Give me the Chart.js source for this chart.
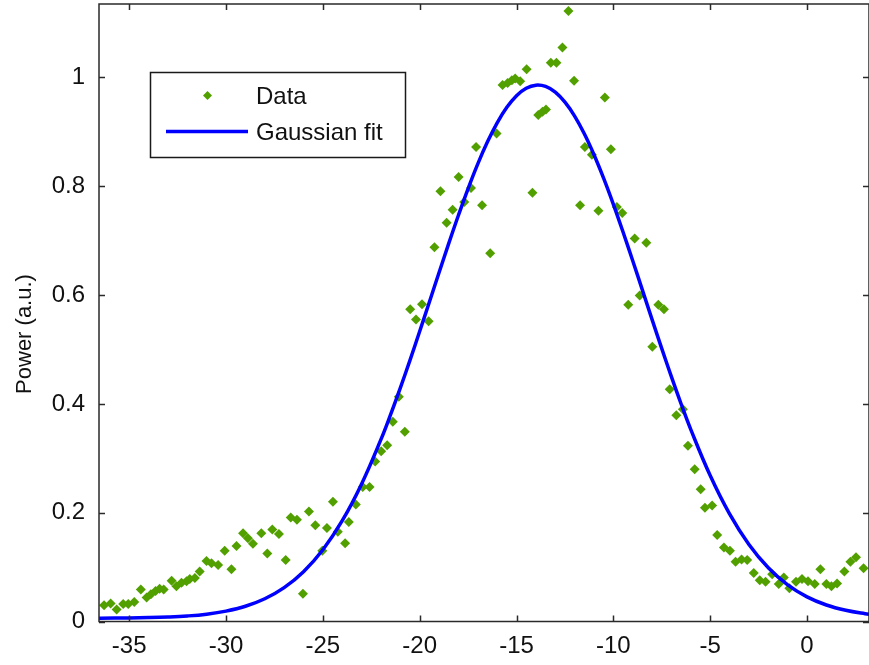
<!DOCTYPE html>
<html>
<head>
<meta charset="utf-8">
<script src="https://cdn.jsdelivr.net/npm/chart.js@4/dist/chart.umd.min.js"></script>
<style>
  html, body { margin: 0; padding: 0; background: #fff; overflow: hidden; }
  canvas { display: block; }
</style>
</head>
<body>
<canvas id="c" width="869" height="665"></canvas>
<script>
// Measured spectrum: detuning and normalised power
const dataX = [
  -36.30, -35.96, -35.65, -35.31, -35.05, -34.74, -34.40, -34.10, -33.88, -33.64,
  -33.43, -33.22, -32.81, -32.56, -32.30, -32.04, -31.87, -31.61, -31.36, -31.01,
  -30.75, -30.41, -30.07, -29.72, -29.46, -29.12, -28.87, -28.61, -28.18, -27.87,
  -27.61, -27.27, -26.92, -26.66, -26.34, -26.03, -25.72, -25.39, -25.03, -24.79,
  -24.48, -24.23, -23.85, -23.66, -23.30, -22.94, -22.59, -22.30, -21.99, -21.68,
  -21.39, -21.08, -20.77, -20.49, -20.19, -19.88, -19.54, -19.24, -18.93, -18.61,
  -18.30, -17.99, -17.70, -17.35, -17.09, -16.78, -16.36, -16.03, -15.72, -15.46,
  -15.24, -15.07, -14.81, -14.48, -14.18, -13.88, -13.66, -13.48, -13.23, -12.94,
  -12.63, -12.32, -12.03, -11.72, -11.47, -11.11, -10.77, -10.44, -10.13, -9.82,
  -9.54, -9.23, -8.90, -8.64, -8.30, -7.99, -7.68, -7.39, -7.09, -6.75,
  -6.41, -6.15, -5.80, -5.49, -5.27, -4.90, -4.64, -4.29, -3.98, -3.69,
  -3.38, -3.09, -2.75, -2.44, -2.14, -1.80, -1.46, -1.20, -0.91, -0.57,
  -0.26, 0.05, 0.40, 0.69, 1.00, 1.26, 1.55, 1.93, 2.24, 2.53,
  2.92
];
const dataY = [
  0.030, 0.033, 0.022, 0.032, 0.032, 0.036, 0.059, 0.044, 0.050, 0.056,
  0.060, 0.059, 0.075, 0.065, 0.071, 0.074, 0.078, 0.080, 0.092, 0.111,
  0.107, 0.104, 0.130, 0.096, 0.139, 0.162, 0.153, 0.143, 0.162, 0.125,
  0.169, 0.161, 0.113, 0.191, 0.187, 0.051, 0.202, 0.177, 0.130, 0.172,
  0.220, 0.165, 0.144, 0.183, 0.215, 0.247, 0.247, 0.294, 0.313, 0.324,
  0.367, 0.413, 0.349, 0.574, 0.555, 0.583, 0.552, 0.688, 0.791, 0.733,
  0.757, 0.817, 0.771, 0.797, 0.872, 0.765, 0.677, 0.897, 0.986, 0.990,
  0.995, 0.998, 0.993, 1.015, 0.788, 0.931, 0.937, 0.941, 1.027, 1.027,
  1.055, 1.122, 0.994, 0.765, 0.872, 0.858, 0.755, 0.963, 0.868, 0.762,
  0.751, 0.582, 0.704, 0.599, 0.696, 0.505, 0.582, 0.574, 0.427, 0.379,
  0.390, 0.323, 0.280, 0.243, 0.209, 0.213, 0.159, 0.136, 0.130, 0.110,
  0.114, 0.113, 0.089, 0.076, 0.073, 0.087, 0.069, 0.081, 0.061, 0.073,
  0.078, 0.074, 0.069, 0.096, 0.069, 0.065, 0.070, 0.092, 0.110, 0.118,
  0.098
];

// Fitted Gaussian profile, sampled along the curve
const fitX = [
  -37, -36.5, -35, -34, -33, -32, -31, -30, -29, -28, -27, -26, -25, -24, -23, -22,
  -21.5, -21, -20.5, -20, -19.5, -19, -18.5, -18, -17.5, -17, -16.5, -16, -15.5, -15,
  -14.5, -14, -13.5, -13, -12.5, -12, -11.5, -11, -10.5, -10, -9.5, -9, -8.5, -8,
  -7.5, -7, -6.5, -6, -5, -4, -3, -2, -1, 0, 1, 2, 3, 3.5
];
const fitY = [
  0.0061, 0.0062, 0.0066, 0.0072, 0.0083, 0.0102, 0.0135, 0.0191, 0.0280, 0.0418,
  0.0623, 0.0916, 0.1320, 0.1853, 0.2529, 0.3347,
  0.3806, 0.4294, 0.4805, 0.5334, 0.5874, 0.6415, 0.6950, 0.7467, 0.7958, 0.8411,
  0.8816, 0.9166, 0.9451, 0.9665, 0.9801, 0.9858, 0.9834, 0.9729, 0.9545, 0.9289,
  0.8964, 0.8579, 0.8144, 0.7668, 0.7159, 0.6631, 0.6091, 0.5549, 0.5015, 0.4496,
  0.3998, 0.3527, 0.2682, 0.1977, 0.1415, 0.0987, 0.0673, 0.0453, 0.0303, 0.0206,
  0.0144, 0.0123
];

const xTicks = [-35, -30, -25, -20, -15, -10, -5, 0];
const yTicks = [0, 0.2, 0.4, 0.6, 0.8, 1];
const yTickLabels = ['0', '0.2', '0.4', '0.6', '0.8', '1'];
const seriesNames = ['Data', 'Gaussian fit'];
const yTitle = 'Power (a.u.)';

const FONT = '"Liberation Sans", Arial, Helvetica, sans-serif';
const GREEN = 'rgb(82,160,0)';
const BLUE = '#0000ff';

// Axes box with inward tick marks on all four sides
const framePlugin = {
  id: 'frame',
  afterDraw(chart) {
    const { ctx, chartArea: a, scales: { x, y } } = chart;
    const L = 6;
    ctx.save();
    ctx.strokeStyle = '#2a2a2a';
    ctx.lineWidth = 1.5;
    ctx.strokeRect(a.left, a.top, a.right - a.left, a.bottom - a.top);
    ctx.beginPath();
    xTicks.forEach(v => {
      const px = Math.round(x.getPixelForValue(v)) + 0.5;
      ctx.moveTo(px, a.bottom); ctx.lineTo(px, a.bottom - L);
      ctx.moveTo(px, a.top); ctx.lineTo(px, a.top + L);
    });
    yTicks.forEach(v => {
      const py = Math.round(y.getPixelForValue(v)) + 0.5;
      ctx.moveTo(a.left, py); ctx.lineTo(a.left + L, py);
      ctx.moveTo(a.right, py); ctx.lineTo(a.right - L, py);
    });
    ctx.stroke();

    // y-axis title
    ctx.fillStyle = '#111';
    ctx.font = '22px ' + FONT;
    ctx.textAlign = 'center';
    ctx.textBaseline = 'middle';
    ctx.translate(25, 334);
    ctx.rotate(-Math.PI / 2);
    ctx.fillText(yTitle, 0, 0);
    ctx.restore();
  }
};

// Boxed legend in the upper-left of the plot
const legendPlugin = {
  id: 'boxLegend',
  afterDraw(chart) {
    const { ctx } = chart;
    const bx = 150.5, by = 72.5, bw = 255, bh = 85;
    ctx.save();
    ctx.fillStyle = '#fff';
    ctx.fillRect(bx, by, bw, bh);
    ctx.strokeStyle = '#1a1a1a';
    ctx.lineWidth = 1.5;
    ctx.strokeRect(bx, by, bw, bh);

    // marker entry
    const mx = 207.5, my = 95.5, r = 4.5;
    ctx.fillStyle = GREEN;
    ctx.beginPath();
    ctx.moveTo(mx - r, my); ctx.lineTo(mx, my - r); ctx.lineTo(mx + r, my); ctx.lineTo(mx, my + r);
    ctx.closePath();
    ctx.fill();

    // line entry
    ctx.strokeStyle = BLUE;
    ctx.lineWidth = 3.5;
    ctx.beginPath();
    ctx.moveTo(166, 131.5); ctx.lineTo(248, 131.5);
    ctx.stroke();

    ctx.fillStyle = '#111';
    ctx.font = '24px ' + FONT;
    ctx.textAlign = 'left';
    ctx.textBaseline = 'middle';
    ctx.fillText(seriesNames[0], 256, 97);
    ctx.fillText(seriesNames[1], 256, 133);
    ctx.restore();
  }
};

// Remove the label overhang padding so the plot box fills the measured area
const noPad = s => { s.paddingTop = 0; s.paddingBottom = 0; s.paddingLeft = 0; s.paddingRight = 0; };

const points = dataX.map((x, i) => ({ x, y: dataY[i] }));
const curve = fitX.map((x, i) => ({ x, y: fitY[i] }));

new Chart(document.getElementById('c'), {
  type: 'scatter',
  data: {
    datasets: [
      {
        label: seriesNames[0],
        data: points,
        order: 2,
        pointStyle: 'rectRot',
        pointRadius: 5,
        pointHoverRadius: 5,
        pointBorderWidth: 0,
        backgroundColor: GREEN,
        borderColor: GREEN,
        showLine: false
      },
      {
        label: seriesNames[1],
        type: 'line',
        data: curve,
        order: 1,
        borderColor: BLUE,
        borderWidth: 3.5,
        pointRadius: 0,
        pointHoverRadius: 0,
        tension: 0.4,
        fill: false
      }
    ]
  },
  options: {
    responsive: false,
    animation: false,
    devicePixelRatio: 1,
    // the right edge of the plot box sits just past the canvas edge
    layout: { autoPadding: false, padding: { top: 4, right: -2, left: 0, bottom: 0 } },
    plugins: {
      legend: { display: false },
      tooltip: { enabled: false },
      title: { display: false }
    },
    scales: {
      x: {
        type: 'linear',
        min: -36.56,
        max: 3.2,
        grid: { display: false, drawTicks: false },
        border: { display: false },
        afterBuildTicks: s => { s.ticks = xTicks.map(v => ({ value: v })); },
        afterFit: s => { s.height = 43.5; noPad(s); },
        ticks: {
          color: '#111',
          font: { family: FONT, size: 24 },
          padding: 10,
          maxRotation: 0,
          autoSkip: false,
          callback: v => String(v)
        }
      },
      y: {
        type: 'linear',
        min: 0,
        max: 1.135,
        grid: { display: false, drawTicks: false },
        border: { display: false },
        afterBuildTicks: s => { s.ticks = yTicks.map(v => ({ value: v })); },
        afterFit: s => { s.width = 99; noPad(s); },
        ticks: {
          color: '#111',
          font: { family: FONT, size: 24 },
          padding: 14,
          autoSkip: false,
          callback: v => yTickLabels[yTicks.indexOf(v)] ?? String(v)
        }
      }
    }
  },
  plugins: [framePlugin, legendPlugin]
});
</script>
</body>
</html>
